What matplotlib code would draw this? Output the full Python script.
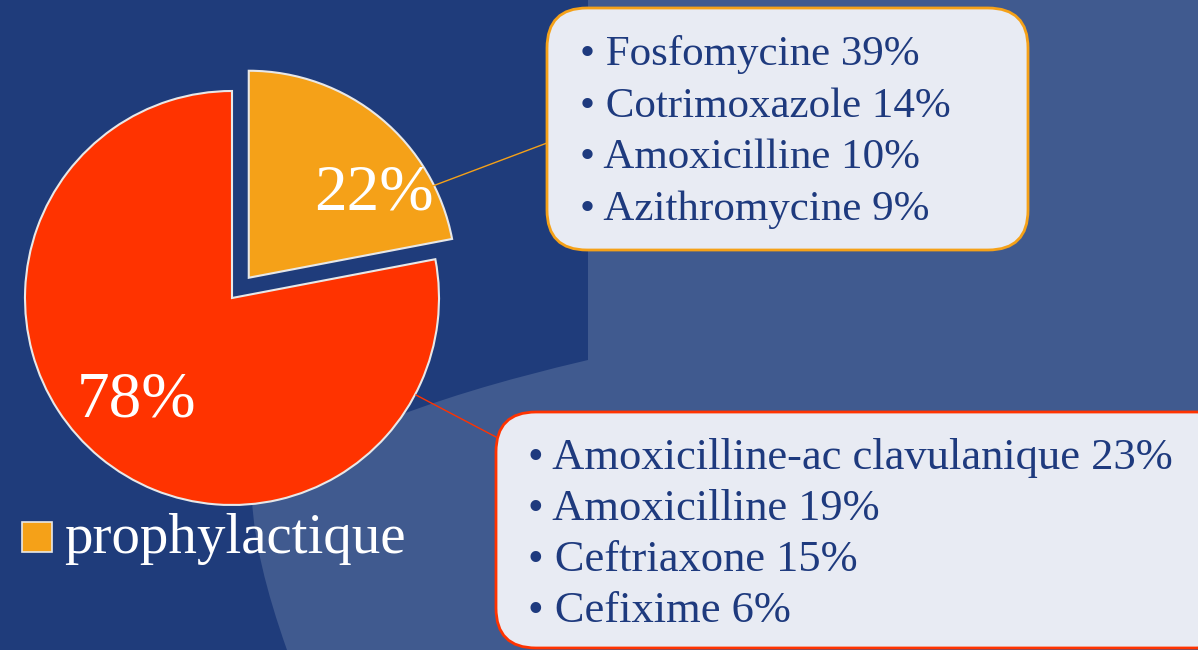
import matplotlib.pyplot as plt
from matplotlib.patches import FancyBboxPatch, PathPatch
from matplotlib.path import Path

# data
shares = [22, 78]
share_labels = ['22%', '78%']
slice_colors = ['#F5A118', '#FF3300']
legend_label = 'prophylactique'
prophylactic_items = ['Fosfomycine 39%', 'Cotrimoxazole 14%', 'Amoxicilline 10%', 'Azithromycine 9%']
curative_items = ['Amoxicilline-ac clavulanique 23%', 'Amoxicilline 19%', 'Ceftriaxone 15%', 'Cefixime 6%']

W, H = 1198, 650
dark_bg = '#1F3C7B'
light_bg = '#405A8F'
navy = '#1E3A7E'
serif = ['Liberation Serif', 'DejaVu Serif']

fig = plt.figure(figsize=(W / 100, H / 100), dpi=100)
fig.patch.set_facecolor(dark_bg)

# background layer in pixel coords
bg = fig.add_axes([0, 0, 1, 1], zorder=0)
bg.set_xlim(0, W)
bg.set_ylim(H, 0)
bg.axis('off')
verts = [(588, 0), (W, 0), (W, H), (287, H),
         (255, 560), (252, 500),
         (330, 420), (588, 360), (588, 0)]
codes = [Path.MOVETO, Path.LINETO, Path.LINETO, Path.LINETO,
         Path.CURVE3, Path.CURVE3,
         Path.CURVE3, Path.CURVE3, Path.CLOSEPOLY]
bg.add_patch(PathPatch(Path(verts, codes), facecolor=light_bg, edgecolor='none'))

# pie layer: center (232, 298) px, radius 207 px
r_px = 207
lim = 1.3
side = 2 * lim * r_px
cx, cy = 232, H - 298
pie_ax = fig.add_axes([(cx - side / 2) / W, (cy - side / 2) / H, side / W, side / H], zorder=1)
pie_ax.patch.set_alpha(0)
pie_ax.pie(shares, colors=slice_colors, startangle=90, counterclock=False,
           explode=(0.127, 0), radius=1,
           wedgeprops=dict(edgecolor='#E8E8E8', linewidth=1.5))
pie_ax.set_aspect('auto')
pie_ax.set_xlim(-lim, lim)
pie_ax.set_ylim(-lim, lim)
pie_ax.axis('off')
label_pos = [(0.686, 0.505), (-0.459, -0.495)]
for lab, (lx, ly) in zip(share_labels, label_pos):
    pie_ax.text(lx, ly, lab, color='white', fontsize=47, family=serif,
                ha='center', va='center')

# overlay: boxes, connectors, legend
ov = fig.add_axes([0, 0, 1, 1], zorder=2)
ov.patch.set_alpha(0)
ov.set_xlim(0, W)
ov.set_ylim(H, 0)
ov.axis('off')

ov.plot([430, 547], [187, 143], color='#F5A118', lw=1)
ov.plot([416, 496], [395, 437], color='#FF3300', lw=1)

box1 = FancyBboxPatch((547, 8), 481, 242, boxstyle='round,pad=0,rounding_size=40',
                      facecolor='#E8EBF3', edgecolor='#F5A118', lw=2)
ov.add_patch(box1)
box2 = FancyBboxPatch((496, 412), 740, 236, boxstyle='round,pad=0,rounding_size=40',
                      facecolor='#E8EBF3', edgecolor='#FF3300', lw=2)
ov.add_patch(box2)

for i, item in enumerate(prophylactic_items):
    ov.text(580, 55 + i * 51.5, '\u2022 ' + item, color=navy, fontsize=31,
            family=serif, ha='left', va='center')
for i, item in enumerate(curative_items):
    ov.text(528, 458 + i * 51, '\u2022 ' + item, color=navy, fontsize=32,
            family=serif, ha='left', va='center')

# legend
ov.add_patch(plt.Rectangle((22, 522), 30, 30, facecolor=slice_colors[0],
                           edgecolor='#E8E8E8', lw=1.2))
ov.text(64, 539, legend_label, color='white', fontsize=41, family=serif,
        ha='left', va='center')

fig.savefig('out.png', dpi=100, facecolor=fig.get_facecolor())
